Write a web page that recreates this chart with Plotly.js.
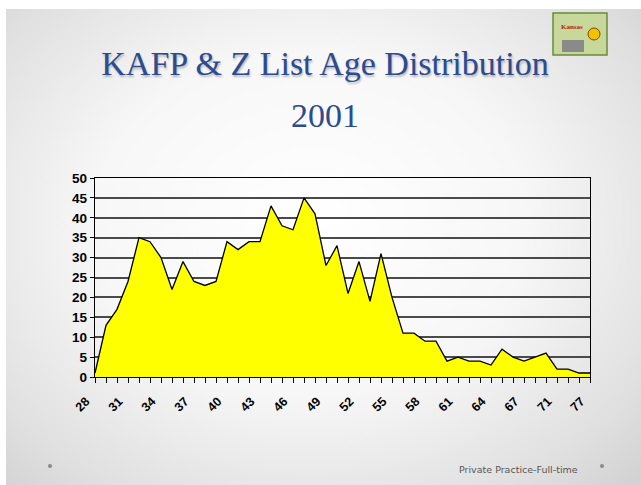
<!DOCTYPE html>
<html>
<head>
<meta charset="utf-8">
<script src="https://cdn.plot.ly/plotly-3.0.1.min.js"></script>
<style>
html,body{margin:0;padding:0;background:#ffffff;}
#slide{position:absolute;left:6px;top:9px;width:635px;height:476px;
 background:radial-gradient(ellipse 75% 80% at 48% 45%, #ffffff 0%, #f7f7f7 45%, #e0e0e0 80%, #cfcfcf 100%);}
#chart{position:absolute;left:0;top:0;width:641px;height:485px;}
#chart .gtitle, #chart .annotation-text.ttl {text-shadow: 1px 2px 2px rgba(0,0,0,0.25);}
</style>
</head>
<body>
<div id="slide"></div>
<div id="chart"></div>
<script>
// Ages (categories) and counts
const ages = ['28','29','30','31','32','33','34','35','36','37','38','39','40','41','42','43','44','45','46','47',
              '48','49','50','51','52','53','54','55','56','57','58','59','60','61','62','63','64','65','66','67',
              '68','69','71','72','74','77'];
const counts = [1,13,17,24,35,34,30,22,29,24,23,24,34,32,34,34,43,38,37,45,
                41,28,33,21,29,19,31,20,11,11,9,9,4,5,4,4,3,7,5,4,
                5,6,2,2,1,1];
const labelAges = ['28','31','34','37','40','43','46','49','52','55','58','61','64','67','71','77'];

const tickText = ages.map(a => labelAges.includes(a) ? a : '');

const trace = {
  type: 'scatter',
  mode: 'lines',
  x: ages,
  y: counts,
  fill: 'tozeroy',
  fillcolor: '#FFFF00',
  line: {color: '#000000', width: 1.3},
  hoverinfo: 'x+y'
};

const titleFont = {family: 'Liberation Serif, DejaVu Serif, serif', size: 34, color: '#2C4B90'};

const layout = {
  width: 641, height: 485,
  margin: {l: 95, r: 51, t: 178, b: 108},
  paper_bgcolor: 'rgba(0,0,0,0)',
  plot_bgcolor: 'rgba(0,0,0,0)',
  showlegend: false,
  title: {
    text: 'KAFP &amp; Z List Age Distribution',
    x: (325 - 0) / 641, xanchor: 'center', y: 1 - 63 / 485, yanchor: 'middle',
    font: titleFont
  },
  xaxis: {
    type: 'category',
    range: [0, ages.length - 1],
    tickmode: 'array',
    tickvals: ages,
    ticktext: tickText,
    tickangle: -45,
    ticks: 'outside', ticklen: 5, tickwidth: 1, tickcolor: '#000',
    ticklabelstandoff: 6,
    ticklabelshift: -9,
    showline: true, linecolor: '#000', linewidth: 1.2, mirror: true,
    showgrid: false, zeroline: false,
    tickfont: {family: 'Liberation Sans, Arial, sans-serif', size: 12.5, color: '#000', weight: 'bold'}
  },
  yaxis: {
    range: [0, 50],
    dtick: 5,
    ticks: 'outside', ticklen: 4, tickwidth: 1, tickcolor: '#000',
    showline: true, linecolor: '#000', linewidth: 1.2, mirror: true,
    showgrid: true, gridcolor: '#4a4a4a', gridwidth: 2,
    zeroline: false,
    tickfont: {family: 'Liberation Sans, Arial, sans-serif', size: 13.5, color: '#000', weight: 'bold'}
  },
  annotations: [
    {text: '2001', xref: 'paper', yref: 'paper', x: (325 - 95) / 495, y: 1.0 + (178 - 115) / 199,
     xanchor: 'center', yanchor: 'middle', showarrow: false, font: titleFont},
    {text: 'Private Practice-Full-time', xref: 'paper', yref: 'paper',
     x: (518 - 95) / 495, y: -(469 - 377) / 199, xanchor: 'center', yanchor: 'middle', showarrow: false,
     font: {family: 'DejaVu Sans, sans-serif', size: 9.5, color: '#5a5550'}},
    {text: 'Kansas', xref: 'paper', yref: 'paper',
     x: (572 - 95) / 495, y: 1 + (178 - 27) / 199, xanchor: 'center', yanchor: 'middle', showarrow: false,
     font: {family: 'Liberation Serif, serif', size: 7, color: '#b22222', weight: 'bold'}}
  ],
  shapes: [
    // bullets at the bottom of the slide
    {type: 'circle', xref: 'paper', yref: 'paper',
     x0: (48 - 95) / 495, x1: (52 - 95) / 495, y0: -(468 - 377) / 199, y1: -(464 - 377) / 199,
     fillcolor: '#888', line: {width: 0}},
    {type: 'circle', xref: 'paper', yref: 'paper',
     x0: (600 - 95) / 495, x1: (604 - 95) / 495, y0: -(468 - 377) / 199, y1: -(464 - 377) / 199,
     fillcolor: '#888', line: {width: 0}},
    // logo picture frame (top right)
    {type: 'rect', xref: 'paper', yref: 'paper',
     x0: (553 - 95) / 495, x1: (607 - 95) / 495, y0: 1 + (178 - 55) / 199, y1: 1 + (178 - 13) / 199,
     fillcolor: '#c8d79a', line: {color: '#6a8a3a', width: 1.5}},
    {type: 'rect', xref: 'paper', yref: 'paper',
     x0: (562 - 95) / 495, x1: (584 - 95) / 495, y0: 1 + (178 - 52) / 199, y1: 1 + (178 - 40) / 199,
     fillcolor: '#8a8a8a', line: {width: 0}},
    {type: 'circle', xref: 'paper', yref: 'paper',
     x0: (588 - 95) / 495, x1: (600 - 95) / 495, y0: 1 + (178 - 40) / 199, y1: 1 + (178 - 28) / 199,
     fillcolor: '#f2c200', line: {color: '#7a4a00', width: 1}}
  ]
};

Plotly.newPlot('chart', [trace], layout, {displayModeBar: false, staticPlot: true});
</script>
</body>
</html>
